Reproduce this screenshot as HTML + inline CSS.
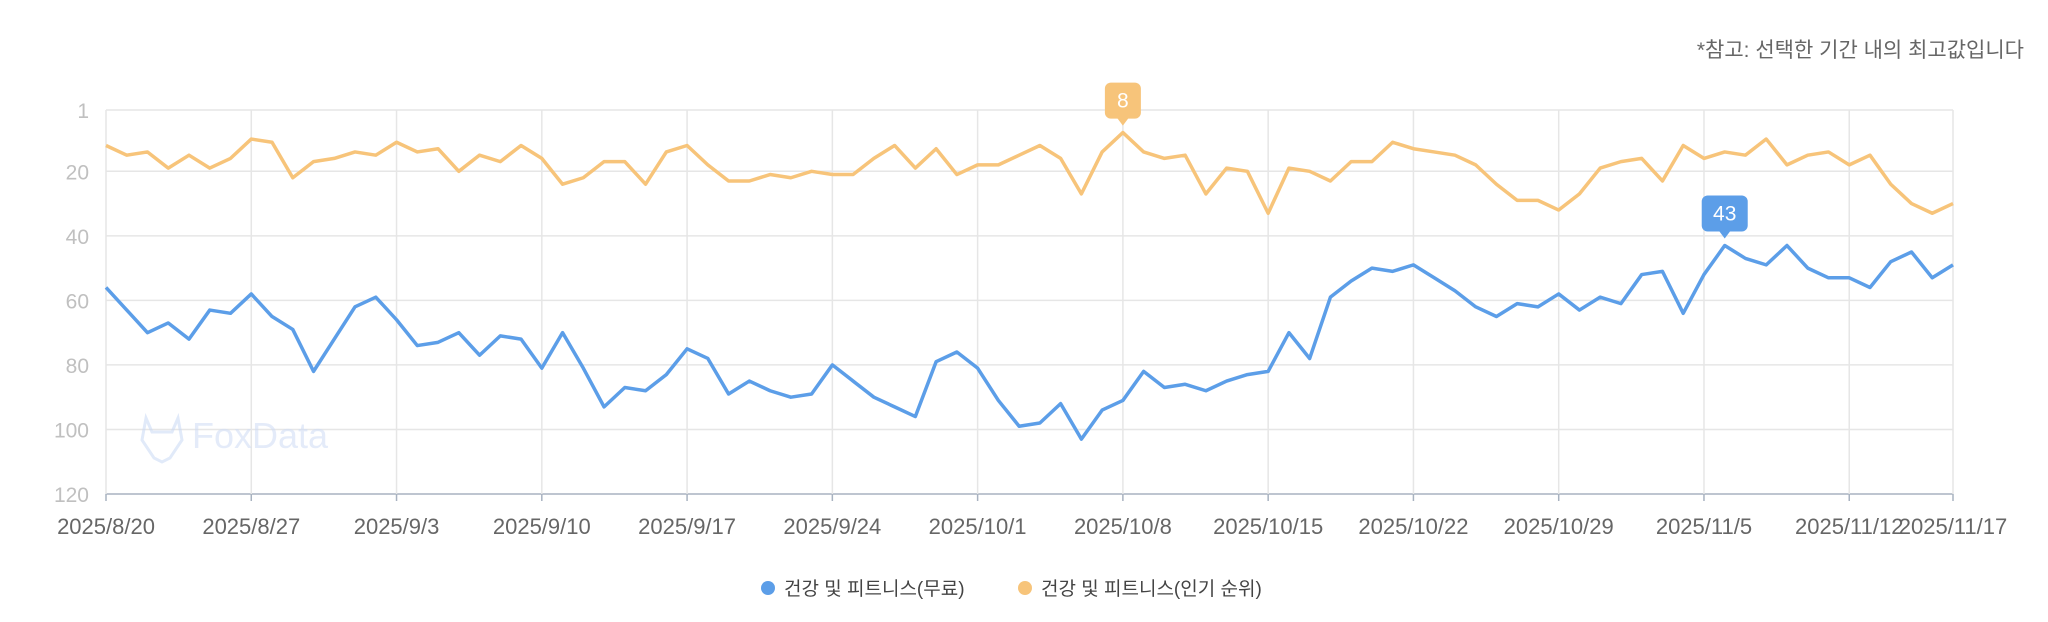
<!DOCTYPE html>
<html><head><meta charset="utf-8">
<style>
html,body{margin:0;padding:0;background:#fff;}
body{width:2048px;height:622px;overflow:hidden;position:relative;font-family:"Liberation Sans","Noto Sans CJK KR",sans-serif;}
svg{position:absolute;left:0;top:0;}
</style></head>
<body>
<svg id="chart" width="2048" height="622"></svg>
<script>
const dateStart = [2025, 8, 20];
const dayCount = 90;
const xTickLabels = ["2025/8/20","2025/8/27","2025/9/3","2025/9/10","2025/9/17","2025/9/24","2025/10/1","2025/10/8","2025/10/15","2025/10/22","2025/10/29","2025/11/5","2025/11/12","2025/11/17"];
const xTickIndex = [0,7,14,21,28,35,42,49,56,63,70,77,84,89];
const yTicks = [1,20,40,60,80,100,120];
const freeRank = [56,63,70,67,72,63,64,58,65,69,82,72,62,59,66,74,73,70,77,71,72,81,70,81,93,87,88,83,75,78,89,85,88,90,89,80,85,90,93,96,79,76,81,91,99,98,92,103,94,91,82,87,86,88,85,83,82,70,78,59,54,50,51,49,53,57,62,65,61,62,58,63,59,61,52,51,64,52,43,47,49,43,50,53,53,56,48,45,53,49];
const popularRank = [12,15,14,19,15,19,16,10,11,22,17,16,14,15,11,14,13,20,15,17,12,16,24,22,17,17,24,14,12,18,23,23,21,22,20,21,21,16,12,19,13,21,18,18,15,12,16,27,14,8,14,16,15,27,19,20,33,19,20,23,17,17,11,13,14,15,18,24,29,29,32,27,19,17,16,23,12,16,14,15,10,18,15,14,18,15,24,30,33,30];
const popularTipIndex = 49;
const freeTipIndex = 78;

const NS="http://www.w3.org/2000/svg";
const svg=document.getElementById('chart');
const L=106,R=1953,T=110,B=494,yMin=1,yMax=120;
const x=i=>L+(R-L)*i/(dayCount-1);
const y=v=>T+(B-T)*(v-yMin)/(yMax-yMin);
function mk(tag,attrs,parent){const e=document.createElementNS(NS,tag);for(const k in attrs)e.setAttribute(k,attrs[k]);(parent||svg).appendChild(e);return e;}

let t=mk('text',{x:2024,y:57,'text-anchor':'end','font-size':21,fill:'#666'});
t.textContent='*참고: 선택한 기간 내의 최고값입니다';



yTicks.forEach(v=>{
  const g=mk('line',{x1:L,x2:R,y1:y(v),y2:y(v),stroke:v===120?'#a8b2c0':'#e6e6e6','stroke-width':1.5});
  
  
  const lb=mk('text',{x:89,y:y(v)+8,'text-anchor':'end','font-size':21,fill:'#c0c0c0'});
  lb.textContent=v;
  
  
});
xTickIndex.forEach((idx,k)=>{
  const g=mk('line',{x1:x(idx),x2:x(idx),y1:T,y2:B,stroke:'#e6e6e6','stroke-width':1.5});
  
  
  const tk=mk('line',{x1:x(idx),x2:x(idx),y1:B,y2:B+7,stroke:'#a8b2c0','stroke-width':1.5});
  
  
  const lb=mk('text',{x:x(idx),y:534,'text-anchor':'middle','font-size':22,fill:'#666'});
  lb.textContent=xTickLabels[k];
  
  
});

const wm=mk('g',{opacity:0.55});


mk('path',{d:'M146 418 L152 432 L172 432 L178 418 L182 440 L170 458 L162 462 L154 458 L142 440 Z',fill:'none',stroke:'#c9d9f5','stroke-width':3},wm);
const wt=mk('text',{x:192,y:448,'font-size':36,fill:'#cfdcf5'},wm);
wt.textContent='FoxData';

function line(data,color,name){
  const p=mk('polyline',{points:data.map((v,i)=>x(i)+','+y(v)).join(' '),fill:'none',stroke:color,'stroke-width':3.5,'stroke-linejoin':'round'});
  
  
}
line(popularRank,'#f7c47a','popular-rank-line');
line(freeRank,'#5c9ee8','free-rank-line');

function tip(idx,data,color,name){
  const px=x(idx),py=y(data[idx]);
  const txt=String(data[idx]);
  const w=txt.length>1?46:36,h=36;
  const g=mk('g',{});
  
  
  mk('rect',{x:px-w/2,y:py-14-h,width:w,height:h,rx:6,fill:color},g);
  mk('path',{d:`M${px-6} ${py-15} L${px+6} ${py-15} L${px} ${py-7} Z`,fill:color},g);
  const tt=mk('text',{x:px,y:py-14-h/2+7,'text-anchor':'middle','font-size':21,fill:'#fff'},g);
  tt.textContent=txt;
}
tip(popularTipIndex,popularRank,'#f7c47a','popular-best-tooltip');
tip(freeTipIndex,freeRank,'#5c9ee8','free-best-tooltip');

const lg1=mk('g',{});


mk('circle',{cx:768,cy:588,r:7,fill:'#5c9ee8'},lg1);
let l1=mk('text',{x:784,y:595,'font-size':19,fill:'#444'},lg1);
l1.textContent='건강 및 피트니스(무료)';
const lg2=mk('g',{});


mk('circle',{cx:1025,cy:588,r:7,fill:'#f7c47a'},lg2);
let l2=mk('text',{x:1041,y:595,'font-size':19,fill:'#444'},lg2);
l2.textContent='건강 및 피트니스(인기 순위)';
</script>
</body></html>
